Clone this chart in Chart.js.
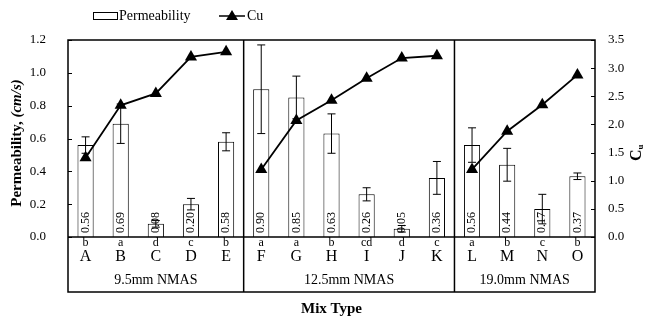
<!DOCTYPE html>
<html>
<head>
<meta charset="utf-8">
<script src="https://cdn.jsdelivr.net/npm/chart.js@4"></script>
<style>
  body { margin: 0; background: #fff; }
  #wrap { width: 651px; height: 320px; }
</style>
</head>
<body>
<div id="wrap"><canvas id="myChart" width="651" height="320"></canvas></div>
<script>
const mixTypes = ['A','B','C','D','E','F','G','H','I','J','K','L','M','N','O'];
const permeability = [0.56, 0.69, 0.08, 0.20, 0.58, 0.90, 0.85, 0.63, 0.26, 0.05, 0.36, 0.56, 0.44, 0.17, 0.37];
const permLabels = ['0.56','0.69','0.08','0.20','0.58','0.90','0.85','0.63','0.26','0.05','0.36','0.56','0.44','0.17','0.37'];
const permError = [0.05, 0.12, 0.02, 0.035, 0.055, 0.27, 0.13, 0.12, 0.04, 0.02, 0.10, 0.105, 0.10, 0.09, 0.02];
const cuValues = [1.41, 2.34, 2.55, 3.20, 3.29, 1.20, 2.07, 2.43, 2.82, 3.18, 3.22, 1.20, 1.88, 2.35, 2.88];
const sigGroups = ['b','a','d','c','b','a','a','b','cd','d','c','a','b','c','b'];
const groupNames = ['9.5mm NMAS', '12.5mm NMAS', '19.0mm NMAS'];
const groupSizes = [5, 6, 4];

const serif = '"Liberation Serif", "Times New Roman", serif';

// error bars, value labels, inward ticks, bottom table, titles, legend
const extras = {
  id: 'extras',
  afterDatasetsDraw(chart) {
    const ctx = chart.ctx;
    const area = chart.chartArea;
    const y = chart.scales.y;
    const barMeta = chart.getDatasetMeta(1);

    ctx.save();
    ctx.fillStyle = '#000';
    ctx.strokeStyle = '#000';

    // value labels inside bars
    ctx.font = '12px ' + serif;
    ctx.textAlign = 'left';
    ctx.textBaseline = 'middle';
    barMeta.data.forEach((bar, i) => {
      ctx.save();
      ctx.translate(bar.x, area.bottom - 4);
      ctx.rotate(-Math.PI / 2);
      ctx.fillText(permLabels[i], 0, 0);
      ctx.restore();
    });

    // error bars
    ctx.lineWidth = 1;
    barMeta.data.forEach((bar, i) => {
      const top = y.getPixelForValue(permeability[i] + permError[i]);
      const bot = y.getPixelForValue(permeability[i] - permError[i]);
      ctx.beginPath();
      ctx.moveTo(bar.x, top); ctx.lineTo(bar.x, bot);
      ctx.moveTo(bar.x - 4, top); ctx.lineTo(bar.x + 4, top);
      ctx.moveTo(bar.x - 4, bot); ctx.lineTo(bar.x + 4, bot);
      ctx.stroke();
    });
    ctx.restore();
  },
  afterDraw(chart) {
    const ctx = chart.ctx;
    const area = chart.chartArea;
    const x = chart.scales.x;
    const y = chart.scales.y;
    const y1 = chart.scales.y1;
    const boxBottom = 292;

    ctx.save();
    ctx.strokeStyle = '#000';
    ctx.fillStyle = '#000';
    ctx.lineWidth = 1;

    // inward ticks
    ctx.beginPath();
    y.ticks.forEach(t => {
      const py = Math.round(y.getPixelForValue(t.value)) + 0.5;
      ctx.moveTo(area.left, py); ctx.lineTo(area.left + 4, py);
    });
    y1.ticks.forEach(t => {
      const py = Math.round(y1.getPixelForValue(t.value)) + 0.5;
      ctx.moveTo(area.right, py); ctx.lineTo(area.right - 4, py);
    });
    ctx.stroke();

    // frame and table box
    ctx.lineWidth = 1.5;
    ctx.strokeRect(area.left, area.top, area.right - area.left, boxBottom - area.top);
    ctx.beginPath();
    ctx.moveTo(area.left, area.bottom); ctx.lineTo(area.right, area.bottom);
    let idx = 0;
    groupSizes.slice(0, -1).forEach(n => {
      idx += n;
      const px = (x.getPixelForValue(idx - 1) + x.getPixelForValue(idx)) / 2;
      ctx.moveTo(px, area.top); ctx.lineTo(px, boxBottom);
    });
    ctx.stroke();

    // category rows
    ctx.textAlign = 'center';
    ctx.textBaseline = 'middle';
    mixTypes.forEach((m, i) => {
      const px = x.getPixelForValue(i);
      ctx.font = '12px ' + serif;
      ctx.fillText(sigGroups[i], px, 243);
      ctx.font = '16px ' + serif;
      ctx.fillText(m, px, 257);
    });

    // group names
    ctx.font = '14px ' + serif;
    idx = 0;
    groupSizes.forEach((n, g) => {
      const px = (x.getPixelForValue(idx) + x.getPixelForValue(idx + n - 1)) / 2;
      ctx.fillText(groupNames[g], px, 280);
      idx += n;
    });

    // x title
    ctx.font = 'bold 15px ' + serif;
    ctx.fillText('Mix Type', (area.left + area.right) / 2, 309);

    // left title
    ctx.save();
    ctx.translate(17, 143);
    ctx.rotate(-Math.PI / 2);
    const t1 = 'Permeability, ';
    const t2 = '(cm/s)';
    ctx.font = 'bold 15px ' + serif;
    const w1 = ctx.measureText(t1).width;
    ctx.font = 'italic bold 15px ' + serif;
    const w2 = ctx.measureText(t2).width;
    ctx.textAlign = 'left';
    ctx.font = 'bold 15px ' + serif;
    ctx.fillText(t1, -(w1 + w2) / 2, 0);
    ctx.font = 'italic bold 15px ' + serif;
    ctx.fillText(t2, -(w1 + w2) / 2 + w1, 0);
    ctx.restore();

    // right title C_u
    ctx.save();
    ctx.translate(637, 153);
    ctx.rotate(-Math.PI / 2);
    ctx.textAlign = 'left';
    ctx.font = 'bold 16px ' + serif;
    const wc = ctx.measureText('C').width;
    ctx.fillText('C', -8, 0);
    ctx.font = 'bold 9px ' + serif;
    ctx.fillText('u', -8 + wc, 4);
    ctx.restore();

    // legend
    ctx.lineWidth = 1;
    ctx.strokeRect(93.5, 12.5, 24, 7);
    ctx.font = '14px ' + serif;
    ctx.textAlign = 'left';
    ctx.fillText('Permeability', 119, 16);
    ctx.lineWidth = 1.5;
    ctx.beginPath();
    ctx.moveTo(219, 16); ctx.lineTo(245, 16);
    ctx.stroke();
    ctx.beginPath();
    ctx.moveTo(232, 10); ctx.lineTo(238, 20); ctx.lineTo(226, 20); ctx.closePath();
    ctx.fill();
    ctx.fillText('Cu', 247, 16);

    ctx.restore();
  }
};

const canvas = document.getElementById('myChart');
const chart = new Chart(canvas.getContext('2d'), {
  data: {
    labels: mixTypes,
    datasets: [
      {
        type: 'line',
        label: 'Cu',
        data: cuValues,
        yAxisID: 'y1',
        borderColor: '#000',
        backgroundColor: '#000',
        borderWidth: 1.8,
        pointStyle: 'triangle',
        pointRadius: 7,
        pointBorderWidth: 0,
        tension: 0,
        order: 0,
        segment: {
          borderColor: c => (c.p0DataIndex === 4 || c.p0DataIndex === 10) ? 'rgba(0,0,0,0)' : '#000'
        }
      },
      {
        type: 'bar',
        label: 'Permeability',
        data: permeability,
        yAxisID: 'y',
        backgroundColor: '#fff',
        borderColor: '#000',
        borderWidth: 1,
        barPercentage: 0.46,
        categoryPercentage: 1,
        order: 1
      }
    ]
  },
  options: {
    responsive: false,
    animation: false,
    layout: { padding: { top: 40, bottom: 83, left: 0, right: 0 } },
    plugins: {
      legend: { display: false },
      tooltip: { enabled: false }
    },
    scales: {
      x: {
        display: false,
        offset: true
      },
      y: {
        position: 'left',
        min: 0,
        max: 1.2,
        grid: { display: false },
        border: { display: false },
        ticks: {
          stepSize: 0.2,
          padding: 14,
          color: '#000',
          font: { family: serif, size: 13 },
          callback: v => v.toFixed(1)
        },
        afterFit: s => { s.width = 68; }
      },
      y1: {
        position: 'right',
        min: 0,
        max: 3.5,
        grid: { display: false },
        border: { display: false },
        ticks: {
          stepSize: 0.5,
          padding: 5,
          color: '#000',
          font: { family: serif, size: 13 },
          callback: v => v.toFixed(1)
        },
        afterFit: s => { s.width = 56; }
      }
    }
  },
  plugins: [extras]
});
</script>
</body>
</html>
